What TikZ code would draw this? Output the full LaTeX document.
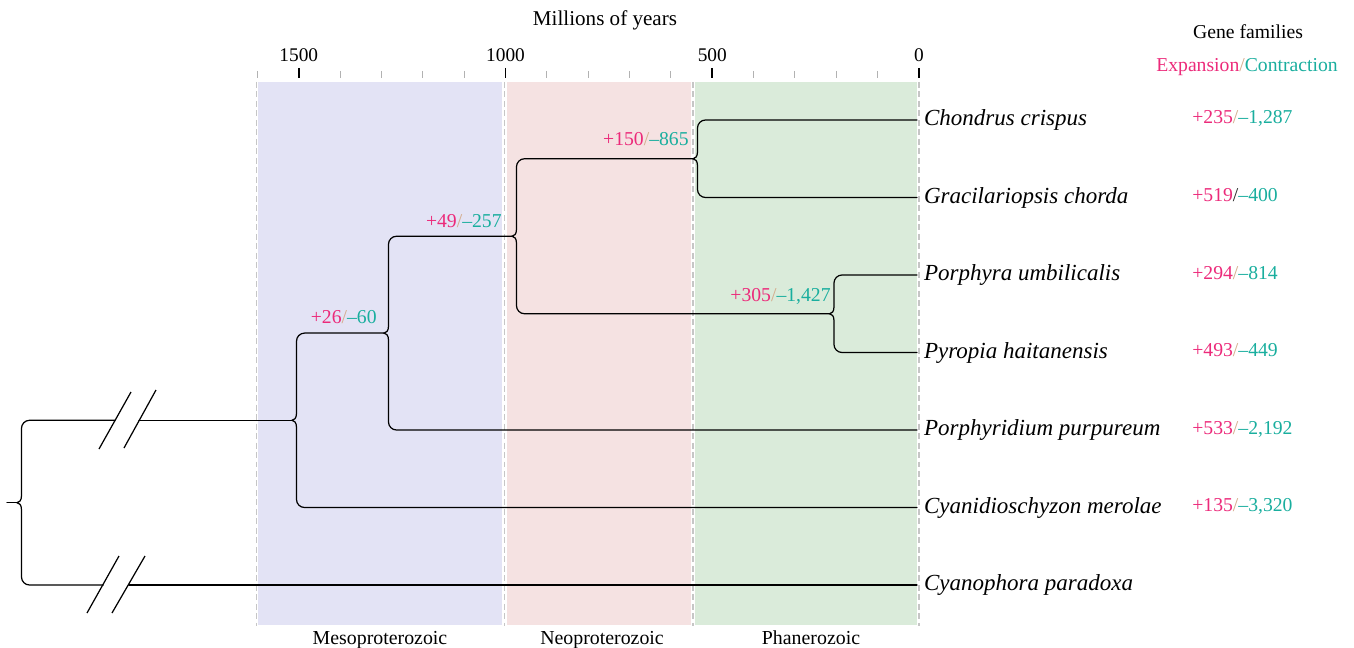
\documentclass[tikz,border=0pt]{standalone}
\usepackage{fontspec}
\setmainfont{Liberation Serif}
\usetikzlibrary{calc,positioning}

\definecolor{expcol}{HTML}{EC2A7A}
\definecolor{concol}{HTML}{19AE9E}
\definecolor{slashcol}{HTML}{D4AC8C}
\definecolor{mesofill}{HTML}{E3E3F5}
\definecolor{neofill}{HTML}{F5E2E2}
\definecolor{phanfill}{HTML}{DAEBDA}

% expansion / contraction counts
\newcommand{\gain}[3][slashcol]{\textcolor{expcol}{+#2}\textcolor{#1}{/}\textcolor{concol}{\textendash#3}}

% brace-shaped split: tip, upper child, lower child
\newcommand{\clade}[3]{%
  \draw[branch] (#2) -- ($(#1 |- #2)+(12.5,0)$)
    .. controls ($(#1 |- #2)+(8.1,0)$) and ($(#1 |- #2)+(4.5,3.6)$) .. ($(#1 |- #2)+(4.5,8)$)
    -- ($(#1)+(4.5,-7)$)
    .. controls ($(#1)+(4.5,-2)$) and ($(#1)+(2,0)$) .. (#1)
    .. controls ($(#1)+(2,0)$) and ($(#1)+(4.5,2)$) .. ($(#1)+(4.5,7)$)
    -- ($(#1 |- #3)+(4.5,-8)$)
    .. controls ($(#1 |- #3)+(4.5,-3.6)$) and ($(#1 |- #3)+(8.1,0)$) .. ($(#1 |- #3)+(12.5,0)$)
    -- (#3);}

\begin{document}
\begin{tikzpicture}[x=0.02cm, y=-0.02cm,
  branch/.style={line width=0.7pt, line cap=round},
  cut/.style={line width=0.7pt},
  leaf/.style={anchor=west, inner xsep=3.8pt, inner ysep=0pt, font=\fontsize{13.1}{15}\selectfont\itshape, text height=9.4pt, text depth=2.9pt},
  count/.style={anchor=base west, inner sep=0pt, font=\fontsize{11.2}{13}\selectfont},
  gainlbl/.style={anchor=base east, inner sep=0pt, font=\fontsize{11.2}{13}\selectfont},
  era/.style={anchor=base, inner sep=0pt, font=\fontsize{11.3}{13}\selectfont},
  bound/.style={draw=gray!45, line width=0.7pt, dash pattern=on 3.4pt off 2pt},
  minortick/.style={draw=gray!60, line width=0.6pt},
  majortick/.style={draw=black, line width=1pt},
  ticklbl/.style={inner sep=0pt, font=\fontsize{11}{13}\selectfont}
]
\useasboundingbox (0,0) rectangle (1354,648);

% eras
\fill[mesofill] (258,82) rectangle (502,625);
\fill[neofill] (507,82) rectangle (691,625);
\fill[phanfill] (695,82) rectangle (917,625);
\foreach \x in {256.5,504.5,693,919}
  \draw[bound] (\x,82) -- (\x,626);
\node[era] (meso) at (380,644) {Mesoproterozoic};
\node[era] (neo) at (602,644) {Neoproterozoic};
\node[era] (phan) at (811,644) {Phanerozoic};

% time axis
\node[font=\fontsize{12}{14}\selectfont, inner sep=0pt] (axis) at (605,20) {Millions of years};
\foreach \t in {0,100,...,1600}
  \draw[minortick] (919-0.4135*\t,71) -- (919-0.4135*\t,78);
\foreach \t in {0,500,1000,1500} {
  \draw[majortick] (919-0.4135*\t,68) -- (919-0.4135*\t,78);
  \node[ticklbl] (t\t) at (919-0.4135*\t,55) {\t};
}

% header of the count column
\node[inner sep=0pt, font=\fontsize{11.2}{13}\selectfont] (gf) at (1248,32) {Gene families};
\node[inner sep=0pt, font=\fontsize{11.2}{13}\selectfont] (ec) at (1247,67)
  {\textcolor{expcol}{Expansion}\textcolor{slashcol}{/}\textcolor{concol}{Contraction}};

% species
\node[leaf] (cc) at (917,120) {Chondrus crispus};
\node[leaf] (gc) at (917,197.5) {Gracilariopsis chorda};
\node[leaf] (pu) at (917,275) {Porphyra umbilicalis};
\node[leaf] (ph) at (917,352.5) {Pyropia haitanensis};
\node[leaf] (pp) at (917,430) {Porphyridium purpureum};
\node[leaf] (cm) at (917,507.5) {Cyanidioschyzon merolae};
\node[leaf] (cp) at (917,585) {Cyanophora paradoxa};

\node[count] (ccn) at ($(cc.west)+(275,4)$) {\gain{235}{1,287}};
\node[count] (gcn) at ($(gc.west)+(275,4)$) {\gain[black!85]{519}{400}};
\node[count] (pun) at ($(pu.west)+(275,4)$) {\gain{294}{814}};
\node[count] (phn) at ($(ph.west)+(275,4)$) {\gain{493}{449}};
\node[count] (ppn) at ($(pp.west)+(275,4)$) {\gain{533}{2,192}};
\node[count] (cmn) at ($(cm.west)+(275,4)$) {\gain{135}{3,320}};

% inner splits
\coordinate (n1) at (693,158.75);
\coordinate (n3) at (829.5,313.75);
\coordinate (n2) at (512,236.25);
\coordinate (n4) at (384,333.1);
\coordinate (n5) at (292,420.3);
\coordinate (root) at (17,502.7);
\coordinate (stub) at (7,502.7);
\coordinate (brkA) at (115,420.3);
\coordinate (brkB) at (139,420.3);
\coordinate (brkC) at (103.3,585);
\coordinate (brkD) at (128.8,585);

\clade{n1}{cc.west}{gc.west}
\clade{n3}{pu.west}{ph.west}
\clade{n2}{n1}{n3}
\clade{n4}{n2}{pp.west}
\clade{n5}{n4}{cm.west}
\clade{root}{brkA}{brkC}
\draw[branch] (brkB) -- (n5);
\draw[branch] (brkD) -- (cp.west);
\draw[branch] (stub) -- (root);

% axis breaks
\draw[cut] (99,449) -- (131,392);
\draw[cut] (124,448) -- (156,390);
\draw[cut] (87,613) -- (119,556);
\draw[cut] (112,613) -- (145,556);

\node[gainlbl] (g1) at (689,146) {\gain{150}{865}};
\node[gainlbl] (g2) at (502,228) {\gain{49}{257}};
\node[gainlbl] (g3) at (831,301) {\gain{305}{1,427}};
\node[gainlbl] (g4) at (377,323) {\gain{26}{60}};

\end{tikzpicture}
\end{document}
